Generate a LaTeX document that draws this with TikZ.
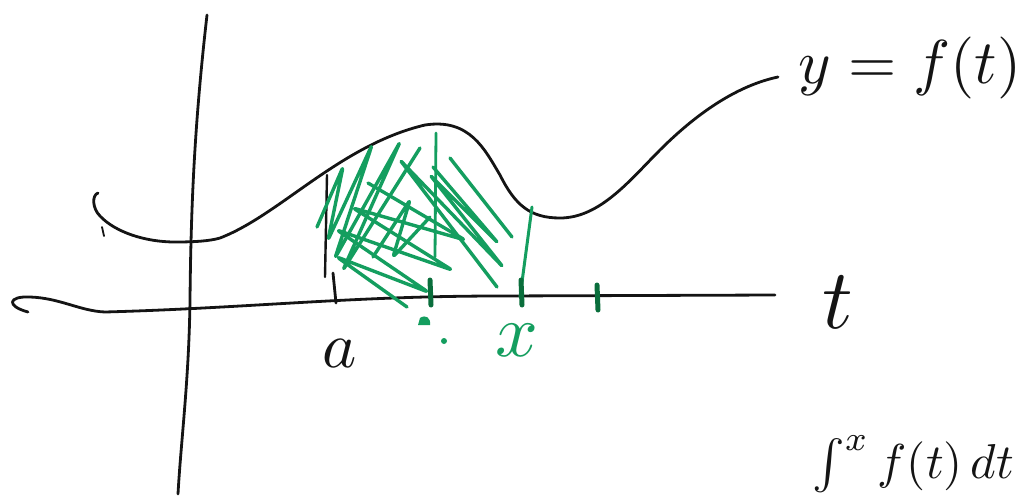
\documentclass[tikz,border=0pt]{standalone}
\usepackage{amsmath}
\usepackage{graphicx}
\usepackage{xcolor}
\definecolor{inkblack}{RGB}{20,20,20}
\definecolor{hatchgreen}{RGB}{20,158,95}
\definecolor{tickgreen}{RGB}{10,110,60}
\newcommand{\handtext}[2]{\scalebox{#1}{#2}}

\begin{document}
\begin{tikzpicture}[x=1pt, y=-1pt, line cap=round, line join=round,
  ink/.style={inkblack, line width=2.8pt},
  hatch/.style={hatchgreen, line width=3.4pt, rounded corners=3pt},
  tickmark/.style={tickgreen, line width=5pt},
  lbl/.style={inner sep=0pt}]

\useasboundingbox (0,0) rectangle (1034,496);

%==================================================
% Axes
%==================================================
% vertical axis
\draw[ink]
  (207,15) .. controls (195,120) and (191,200) .. (190,300)
  .. controls (189,380) and (181,440) .. (178,494);

% horizontal axis with a hook at the left end
\draw[ink]
  (28,312) .. controls (6,306) and (8,296) .. (30,297)
  .. controls (60,298) and (80,311) .. (105,312)
  .. controls (250,308) and (350,296) .. (500,296)
  -- (775,295);

%==================================================
% Graph of f
%==================================================
\draw[ink]
  (98,193) .. controls (92,195) and (92,208) .. (100,216)
  .. controls (115,232) and (145,242) .. (175,242)
  .. controls (195,242) and (210,241) .. (220,238)
  .. controls (280,215) and (340,145) .. (425,125)
  .. controls (470,118) and (485,150) .. (500,175)
  .. controls (515,205) and (530,218) .. (560,218)
  .. controls (600,218) and (630,180) .. (660,150)
  .. controls (700,110) and (740,85) .. (778,77);

% stray pen mark
\draw[inkblack, line width=1.8pt] (102,227) -- (104,236);

% line up from a
\coordinate (Atop) at (327,175);
\coordinate (Abot) at (325,277);
\draw[inkblack, line width=2.4pt] (Atop) -- (Abot);
\draw[inkblack, line width=2.8pt] (333,273) -- (336,303);

%==================================================
% Green shading of the area
%==================================================
% upward strokes
\draw[hatch] (317,227) -- (343,167) -- (328,240) -- (372,145)
  -- (335,258) -- (400,142) -- (343,270) -- (420,148);
% downward strokes
\draw[hatch] (368,183) -- (465,240) -- (353,208) -- (452,270)
  -- (337,230) -- (428,292) -- (337,257) -- (407,307);
\draw[hatch] (450,158) -- (512,237);
\draw[hatch] (433,167) -- (498,243) -- (430,175) -- (503,267)
  -- (400,160) -- (497,287);
% middle zigzag
\draw[hatch] (373,257) -- (410,200) -- (393,257) -- (430,217);

% vertical green lines
\draw[hatchgreen, line width=2.8pt] (436,133) -- (435,257);
\draw[hatchgreen, line width=3pt] (532,207) -- (520,297);

% ticks on the t axis
\foreach \tx/\ty in {430/280, 521/280, 597/285}{
  \draw[tickmark] (\tx,\ty) -- ++(1,25);
}

% small green marks under the axis
\fill[hatchgreen] (420,318) .. controls (426,314) and (431,318) .. (430,325)
  -- (418,325) -- cycle;
\fill[hatchgreen] (444,341) circle (3pt);

%==================================================
% Labels
%==================================================
\node[lbl, text=inkblack] (lblf) at (910,68) {\handtext{6.2}{$y=f(t)$}};
\node[lbl, text=inkblack] (lblt) at (838,302) {\handtext{8.5}{$t$}};
\node[lbl, text=inkblack] (lbla) at (340,354) {\handtext{6.5}{$a$}};
\node[lbl, text=hatchgreen] (lblx) at (517,340) {\handtext{7.5}{$x$}};
\node[lbl, text=inkblack, anchor=north west] (lblint) at (812,436)
  {\handtext{4.9}{$\int^x f(t)\,dt$}};

\end{tikzpicture}
\end{document}
